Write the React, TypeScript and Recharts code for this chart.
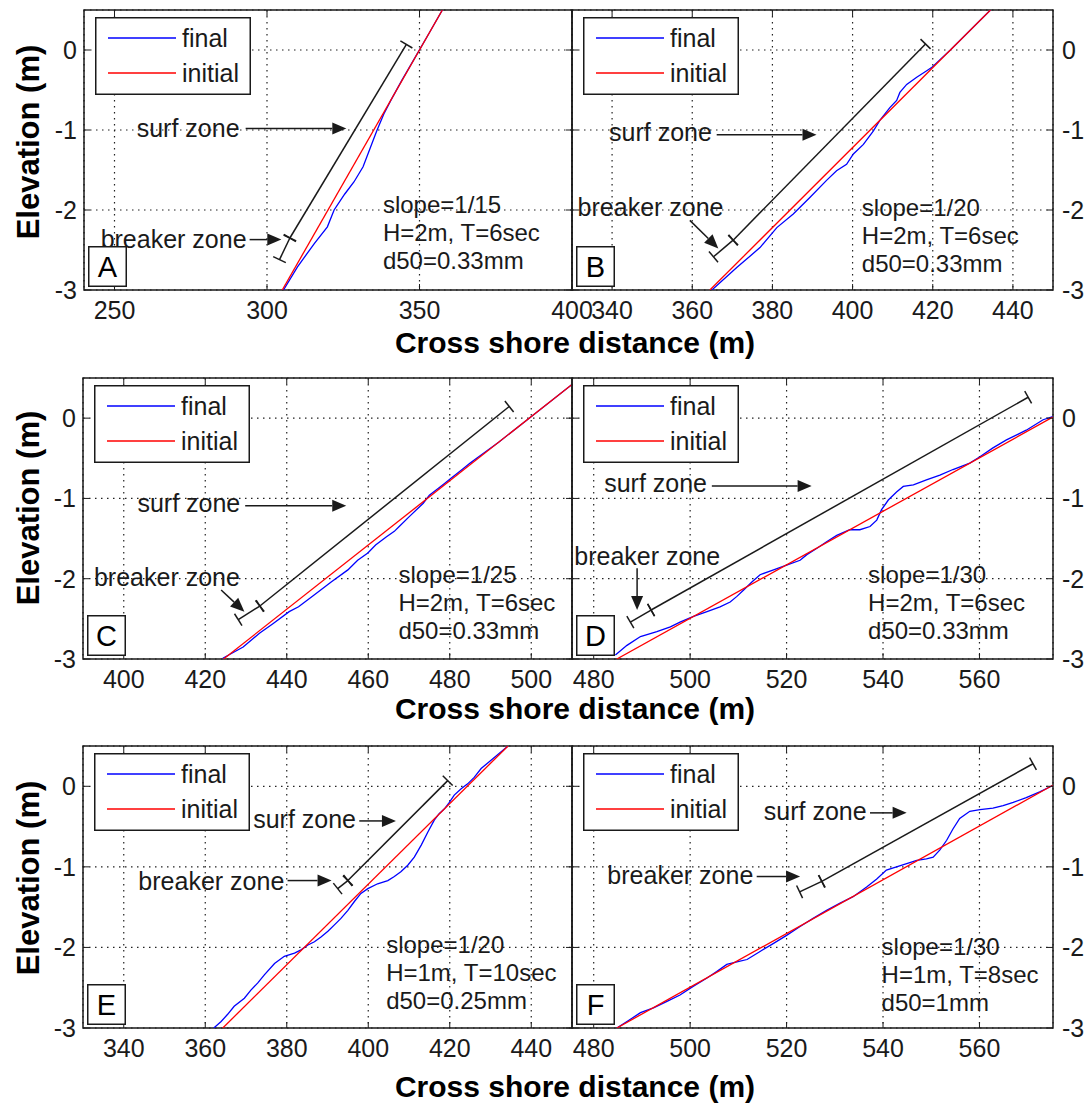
import React from "react";
import {
  CartesianGrid,
  Line,
  LineChart,
  ReferenceArea,
  ReferenceDot,
  ReferenceLine,
  XAxis,
  YAxis,
} from "recharts";

type Pt = { x: number; y: number };
const pts = (a: number[][]): Pt[] => a.map(([x, y]) => ({ x, y }));

// ---- shared axis values ----
const ELEV_DOMAIN = [-3, 0.5];
const ELEV_TICKS = [-3, -2, -1, 0];

// ---- panel A: slope 1/15 ----
const xTicksA = [250, 300, 350, 400];
const initialA = pts([[305, -3], [357.5, 0.5]]);
const finalA = pts([
  [305.4, -3.0], [310.0, -2.71], [315.5, -2.42], [319.8, -2.21], [322.0, -2.0],
  [325.5, -1.8], [328.5, -1.65], [331.5, -1.46], [334.0, -1.21], [336.0, -1.01],
  [338.3, -0.8], [340.6, -0.63], [344.2, -0.38], [348.0, -0.13], [353.0, 0.2],
  [357.5, 0.5],
]);
const barA = pts([[304.1, -2.62], [307.5, -2.35], [345.7, 0.07]]);
const arrowsA = [pts([[293, -0.98], [326, -0.98]]), pts([[294.3, -2.37], [304.7, -2.37]])];
const labelsA = [
  { text: "surf zone", x: 291, y: -0.97, anchor: "end" },
  { text: "breaker zone", x: 293.3, y: -2.36, anchor: "end" },
];
const infoA = ["slope=1/15", "H=2m, T=6sec", "d50=0.33mm"];
const infoAtA = { x: 338, y: -1.93 };

// ---- panel B: slope 1/20 ----
const xTicksB = [340, 360, 380, 400, 420, 440];
const initialB = pts([[364.4, -3], [434.4, 0.5]]);
const finalB = pts([
  [364.9, -3.0], [371.1, -2.72], [376.9, -2.47], [381.1, -2.22], [385.2, -2.05],
  [389.4, -1.84], [393.5, -1.63], [396.0, -1.51], [398.5, -1.43], [400.2, -1.3],
  [402.7, -1.18], [405.2, -1.01], [406.8, -0.88], [409.3, -0.72], [411.0, -0.63],
  [411.8, -0.53], [413.5, -0.43], [416.0, -0.34], [418.5, -0.26], [419.7, -0.22],
  [424.4, 0], [434.4, 0.5],
]);
const barB = pts([[365.3, -2.585], [370.2, -2.377], [418.2, 0.075]]);
const arrowsB = [pts([[366.1, -1.06], [391.0, -1.06]]), pts([[359.4, -2.13], [366.5, -2.48]])];
const labelsB = [
  { text: "surf zone", x: 364.9, y: -1.03, anchor: "end" },
  { text: "breaker zone", x: 349.6, y: -1.96, anchor: "middle" },
];
const infoB = ["slope=1/20", "H=2m, T=6sec", "d50=0.33mm"];
const infoAtB = { x: 402.3, y: -1.97 };

// ---- panel C: slope 1/25 ----
const xTicksC = [400, 420, 440, 460, 480, 500];
const initialC = pts([[424.5, -3], [510, 0.42]]);
const finalC = pts([
  [424.3, -2.99], [429.3, -2.85], [433.3, -2.68], [436.6, -2.56], [440.6, -2.41],
  [442.9, -2.35], [446.8, -2.2], [450.9, -2.04], [455.0, -1.89], [457.4, -1.77],
  [459.9, -1.68], [461.8, -1.58], [464.4, -1.48], [466.4, -1.41], [467.6, -1.35],
  [470.0, -1.23], [473.5, -1.06], [475.0, -0.96], [477.3, -0.87], [478.8, -0.81],
  [480.3, -0.75], [481.8, -0.69], [483.5, -0.62], [485.0, -0.56], [486.6, -0.5],
  [492.0, -0.3], [499.5, 0], [510, 0.42],
]);
const barC = pts([[428.1, -2.51], [433.4, -2.34], [494.6, 0.145]]);
const arrowsC = [pts([[429.8, -1.09], [454.6, -1.09]]), pts([[423.9, -2.14], [429.6, -2.41]])];
const labelsC = [
  { text: "surf zone", x: 428.6, y: -1.06, anchor: "end" },
  { text: "breaker zone", x: 410.6, y: -1.975, anchor: "middle" },
];
const infoC = ["slope=1/25", "H=2m, T=6sec", "d50=0.33mm"];
const infoAtC = { x: 467.4, y: -1.95 };

// ---- panel D: slope 1/30 ----
const xTicksD = [480, 500, 520, 540, 560];
const initialD = pts([[484.8, -3], [575.2, 0.013]]);
const finalD = pts([
  [484.5, -2.95], [486.9, -2.83], [489.7, -2.72], [493.1, -2.66], [495.9, -2.6],
  [497.9, -2.54], [500.7, -2.47], [503.5, -2.41], [506.2, -2.35], [508.3, -2.29],
  [509.7, -2.22], [511.1, -2.14], [512.8, -2.04], [514.5, -1.95], [517.3, -1.89],
  [520.0, -1.83], [522.8, -1.77], [524.2, -1.7], [526.3, -1.62], [528.3, -1.54],
  [530.4, -1.46], [533.1, -1.39], [535.2, -1.39], [537.3, -1.35], [538.7, -1.27],
  [539.7, -1.14], [541.1, -1.02], [542.8, -0.92], [544.2, -0.85], [546.3, -0.83],
  [549.0, -0.77], [551.8, -0.71], [554.5, -0.64], [558.0, -0.56], [560.1, -0.48],
  [562.8, -0.37], [565.6, -0.27], [569.7, -0.15], [573.2, -0.02], [575.2, 0.02],
]);
const barD = pts([[487.6, -2.54], [491.9, -2.39], [570.1, 0.26]]);
const arrowsD = [pts([[504.5, -0.845], [525.2, -0.845]]), pts([[489.0, -1.87], [489.0, -2.39]])];
const labelsD = [
  { text: "surf zone", x: 503.5, y: -0.81, anchor: "end" },
  { text: "breaker zone", x: 491.1, y: -1.72, anchor: "middle" },
];
const infoD = ["slope=1/30", "H=2m, T=6sec", "d50=0.33mm"];
const infoAtD = { x: 536.9, y: -1.95 };

// ---- panel E: slope 1/20, long period ----
const xTicksE = [340, 360, 380, 400, 420, 440];
const initialE = pts([[364.3, -3], [434.3, 0.5]]);
const finalE = pts([
  [362.1, -3.0], [363.9, -2.92], [365.5, -2.83], [367.1, -2.73], [369.6, -2.63],
  [371.2, -2.53], [372.9, -2.44], [374.5, -2.34], [377.0, -2.2], [379.4, -2.11],
  [381.9, -2.07], [383.5, -2.03], [385.2, -1.97], [386.8, -1.93], [388.4, -1.87],
  [390.1, -1.8], [391.7, -1.72], [393.3, -1.64], [395.0, -1.54], [396.6, -1.43],
  [398.2, -1.33], [399.9, -1.27], [402.3, -1.21], [404.8, -1.17], [406.4, -1.12],
  [408.0, -1.06], [409.7, -0.98], [411.3, -0.88], [413.0, -0.73], [414.6, -0.57],
  [416.2, -0.42], [417.4, -0.34], [418.7, -0.28], [419.9, -0.2], [421.1, -0.11],
  [422.8, -0.03], [424.4, 0.03], [426.0, 0.11], [427.7, 0.22], [434.3, 0.5],
]);
const barE = pts([[392.5, -1.27], [395.0, -1.17], [419.5, 0.07]]);
const arrowsE = [pts([[397.8, -0.43], [406.8, -0.43]]), pts([[380.2, -1.17], [391.0, -1.17]])];
const labelsE = [
  { text: "surf zone", x: 397.0, y: -0.41, anchor: "end" },
  { text: "breaker zone", x: 379.4, y: -1.17, anchor: "end" },
];
const infoE = ["slope=1/20", "H=1m, T=10sec", "d50=0.25mm"];
const infoAtE = { x: 404.4, y: -1.96 };

// ---- panel F: slope 1/30, coarse sand ----
const xTicksF = [480, 500, 520, 540, 560];
const initialF = pts([[484.8, -3], [575.2, 0.013]]);
const finalF = pts([
  [484.8, -3.0], [486.9, -2.92], [489.7, -2.81], [492.4, -2.75], [495.2, -2.67],
  [497.9, -2.59], [500.7, -2.48], [503.5, -2.38], [505.5, -2.3], [507.6, -2.21],
  [509.7, -2.18], [511.8, -2.15], [514.5, -2.05], [517.3, -1.95], [520.0, -1.85],
  [522.8, -1.74], [525.5, -1.64], [528.3, -1.54], [531.1, -1.45], [533.8, -1.37],
  [536.6, -1.25], [538.7, -1.15], [540.7, -1.04], [542.8, -1.0], [544.9, -0.96],
  [547.0, -0.92], [549.0, -0.9], [550.4, -0.88], [551.8, -0.79], [553.2, -0.67],
  [554.5, -0.53], [555.9, -0.4], [558.0, -0.31], [560.1, -0.29], [562.8, -0.27],
  [564.9, -0.24], [567.0, -0.2], [569.7, -0.14], [572.5, -0.07], [575.2, 0.01],
]);
const barF = pts([[522.7, -1.31], [527.3, -1.18], [571.1, 0.28]]);
const arrowsF = [pts([[537.3, -0.33], [544.9, -0.33]]), pts([[513.8, -1.12], [522.8, -1.12]])];
const labelsF = [
  { text: "surf zone", x: 536.6, y: -0.31, anchor: "end" },
  { text: "breaker zone", x: 513.1, y: -1.1, anchor: "end" },
];
const infoF = ["slope=1/30", "H=1m, T=8sec", "d50=1mm"];
const infoAtF = { x: 539.7, y: -1.99 };

// ---- look ----
const FONT = "'Liberation Sans', Arial, Helvetica, sans-serif";
const INK = "#1a1a1a";
const BLUE = "#0000ff";
const RED = "#ff0000";
const TOP_PAD = 5;
const TICK_LEN = 6;
const X_TS = 6;
const X_TM = 5;
const CAP = 7;
const HEAD_LEN = 14;
const HEAD_W = 6;
const INFO_STEP = 28;

type Side = "left" | "right";
interface PanelCfg {
  letter: string;
  box: { L: number; T: number; W: number; H: number };
  side: Side;
  xDomain: number[];
  xTicks: number[];
  initial: Pt[];
  final: Pt[];
  bar: Pt[];
  arrows: Pt[][];
  labels: { text: string; x: number; y: number; anchor: string }[];
  info: string[];
  infoAt: Pt;
}

const PANELS: PanelCfg[] = [
  { letter: "A", box: { L: 84, T: 10, W: 488, H: 280 }, side: "left", xDomain: [240, 400], xTicks: xTicksA,
    initial: initialA, final: finalA, bar: barA, arrows: arrowsA, labels: labelsA, info: infoA, infoAt: infoAtA },
  { letter: "B", box: { L: 572, T: 10, W: 481, H: 280 }, side: "right", xDomain: [330, 450], xTicks: xTicksB,
    initial: initialB, final: finalB, bar: barB, arrows: arrowsB, labels: labelsB, info: infoB, infoAt: infoAtB },
  { letter: "C", box: { L: 83, T: 378, W: 489, H: 281 }, side: "left", xDomain: [390, 510], xTicks: xTicksC,
    initial: initialC, final: finalC, bar: barC, arrows: arrowsC, labels: labelsC, info: infoC, infoAt: infoAtC },
  { letter: "D", box: { L: 572, T: 378, W: 481, H: 281 }, side: "right", xDomain: [475.5, 575.25], xTicks: xTicksD,
    initial: initialD, final: finalD, bar: barD, arrows: arrowsD, labels: labelsD, info: infoD, infoAt: infoAtD },
  { letter: "E", box: { L: 83, T: 746, W: 489, H: 282 }, side: "left", xDomain: [330, 450], xTicks: xTicksE,
    initial: initialE, final: finalE, bar: barE, arrows: arrowsE, labels: labelsE, info: infoE, infoAt: infoAtE },
  { letter: "F", box: { L: 572, T: 746, W: 481, H: 282 }, side: "right", xDomain: [475.5, 575.25], xTicks: xTicksF,
    initial: initialF, final: finalF, bar: barF, arrows: arrowsF, labels: labelsF, info: infoF, infoAt: infoAtF },
];

const Y_TITLE_CENTERS = [142, 508, 878];
const X_TITLE_CENTERS = [342, 708, 1086];

// bottom tick label plus inward tick marks on bottom and top edges
function XTick(props: any) {
  const { x, y, payload, plotH } = props;
  const base = y - X_TS - X_TM;
  return (
    <g>
      <line x1={x} x2={x} y1={base} y2={base - TICK_LEN} stroke={INK} />
      <line x1={x} x2={x} y1={base - plotH} y2={base - plotH + TICK_LEN} stroke={INK} />
      <text x={x} y={y} dy="0.71em" textAnchor="middle" fontSize={25} fill={INK} fontFamily={FONT}>
        {payload.value}
      </text>
    </g>
  );
}

// elevation tick label plus inward tick marks on both vertical edges
function YTick(props: any) {
  const { x, y, payload, side, plotW, gap } = props;
  const left = side === "left";
  const edge = left ? x + gap : x - gap;
  const far = left ? edge + plotW : edge - plotW;
  const dir = left ? 1 : -1;
  return (
    <g>
      <line x1={edge} x2={edge + dir * TICK_LEN} y1={y} y2={y} stroke={INK} />
      <line x1={far} x2={far - dir * TICK_LEN} y1={y} y2={y} stroke={INK} />
      <text x={x} y={y} textAnchor={left ? "end" : "start"} dominantBaseline="central"
        fontSize={25} fill={INK} fontFamily={FONT}>
        {payload.value}
      </text>
    </g>
  );
}

// surf-zone bar piece: straight line with perpendicular end caps
function CappedSegment(props: any) {
  const { x1, y1, x2, y2 } = props;
  const len = Math.hypot(x2 - x1, y2 - y1) || 1;
  const nx = (-(y2 - y1) / len) * CAP;
  const ny = ((x2 - x1) / len) * CAP;
  return (
    <g stroke={INK} strokeWidth={1.5}>
      <line x1={x1} y1={y1} x2={x2} y2={y2} />
      <line x1={x1 - nx} y1={y1 - ny} x2={x1 + nx} y2={y1 + ny} />
      <line x1={x2 - nx} y1={y2 - ny} x2={x2 + nx} y2={y2 + ny} />
    </g>
  );
}

function ArrowShape(props: any) {
  const { x1, y1, x2, y2 } = props;
  const len = Math.hypot(x2 - x1, y2 - y1) || 1;
  const ux = (x2 - x1) / len;
  const uy = (y2 - y1) / len;
  const bx = x2 - ux * HEAD_LEN;
  const by = y2 - uy * HEAD_LEN;
  return (
    <g>
      <line x1={x1} y1={y1} x2={bx} y2={by} stroke={INK} strokeWidth={1.5} />
      <polygon
        points={`${x2},${y2} ${bx - uy * HEAD_W},${by + ux * HEAD_W} ${bx + uy * HEAD_W},${by - ux * HEAD_W}`}
        fill={INK}
      />
    </g>
  );
}

function LegendBox() {
  return (
    <svg width={156} height={78} style={{ display: "block" }}>
      <rect x={0.75} y={0.75} width={154.5} height={76.5} fill="#fff" stroke={INK} strokeWidth={1.5} />
      <line x1={13} x2={81} y1={21} y2={21} stroke={BLUE} strokeWidth={1.3} />
      <line x1={13} x2={81} y1={56} y2={56} stroke={RED} strokeWidth={1.3} />
      <text x={87} y={21} dominantBaseline="central" fontSize={25} fill={INK} fontFamily={FONT}>final</text>
      <text x={87} y={56} dominantBaseline="central" fontSize={25} fill={INK} fontFamily={FONT}>initial</text>
    </svg>
  );
}

function LetterBox({ letter }: { letter: string }) {
  return (
    <svg width={39} height={41} style={{ display: "block" }}>
      <rect x={0.75} y={0.75} width={37.5} height={39.5} fill="#fff" stroke={INK} strokeWidth={1.5} />
      <text x={19.5} y={21} textAnchor="middle" dominantBaseline="central" fontSize={29} fill="#000" fontFamily={FONT}>
        {letter}
      </text>
    </svg>
  );
}

function Panel({ p }: { p: PanelCfg }) {
  const leftCol = p.side === "left";
  const yw = leftCol ? 60 : 40;
  const padL = leftCol ? yw : 5;
  const padR = leftCol ? 30 : yw;
  const cw = padL + p.box.W + padR;
  const ch = TOP_PAD + p.box.H + 40;
  const [x0, x1] = p.xDomain;
  const yGap = leftCol ? 7 : 9;

  return (
    <div style={{ position: "absolute", left: p.box.L - padL, top: p.box.T - TOP_PAD }}>
      <LineChart
        width={cw}
        height={ch}
        margin={{ top: TOP_PAD, right: leftCol ? padR : 0, bottom: 0, left: leftCol ? 0 : padL }}
      >
        <CartesianGrid stroke="#222" strokeDasharray="1.5 4.5" strokeWidth={1.2} />
        <XAxis
          type="number"
          dataKey="x"
          domain={p.xDomain}
          ticks={p.xTicks}
          interval={0}
          allowDataOverflow
          height={40}
          tickLine={false}
          axisLine={false}
          tickSize={X_TS}
          tickMargin={X_TM}
          tick={(t: any) => <XTick {...t} plotH={p.box.H} />}
        />
        <YAxis
          type="number"
          orientation={p.side}
          domain={ELEV_DOMAIN}
          ticks={ELEV_TICKS}
          interval={0}
          allowDataOverflow
          width={yw}
          tickLine={false}
          axisLine={false}
          tickSize={4}
          tickMargin={yGap - 4}
          tick={(t: any) => <YTick {...t} side={p.side} plotW={p.box.W} gap={yGap} />}
        />
        <ReferenceArea
          x1={x0}
          x2={x1}
          y1={ELEV_DOMAIN[0]}
          y2={ELEV_DOMAIN[1]}
          fill="none"
          fillOpacity={0}
          stroke={INK}
          strokeWidth={1.5}
          ifOverflow="visible"
        />
        <Line data={p.final} dataKey="y" type="linear" stroke={BLUE} strokeWidth={1.3}
          dot={false} isAnimationActive={false} />
        <Line data={p.initial} dataKey="y" type="linear" stroke={RED} strokeWidth={1.3}
          dot={false} isAnimationActive={false} />

        {[0, 1].map((i) => (
          <ReferenceLine
            key={`bar-${i}`}
            segment={[p.bar[i], p.bar[i + 1]]}
            ifOverflow="visible"
            shape={CappedSegment}
          />
        ))}
        {p.arrows.map((a, i) => (
          <ReferenceLine key={`arr-${i}`} segment={[a[0], a[1]]} ifOverflow="visible" shape={ArrowShape} />
        ))}
        {p.labels.map((l, i) => (
          <ReferenceDot
            key={`lab-${i}`}
            x={l.x}
            y={l.y}
            r={0}
            ifOverflow="visible"
            shape={(d: any) => (
              <text x={d.cx} y={d.cy} textAnchor={l.anchor} dominantBaseline="central"
                fontSize={25} fill={INK} fontFamily={FONT}>
                {l.text}
              </text>
            )}
          />
        ))}
        <ReferenceDot
          x={p.infoAt.x}
          y={p.infoAt.y}
          r={0}
          ifOverflow="visible"
          shape={(d: any) => (
            <g>
              {p.info.map((line, i) => (
                <text key={line} x={d.cx} y={d.cy + i * INFO_STEP} dominantBaseline="central"
                  fontSize={24} fill={INK} fontFamily={FONT}>
                  {line}
                </text>
              ))}
            </g>
          )}
        />
      </LineChart>
      <div style={{ position: "absolute", left: padL + 11, top: TOP_PAD + 7 }}>
        <LegendBox />
      </div>
      <div style={{ position: "absolute", left: padL + 4, top: TOP_PAD + p.box.H - 44 }}>
        <LetterBox letter={p.letter} />
      </div>
    </div>
  );
}

export default function App() {
  return (
    <div style={{ position: "absolute", left: 0, top: 0, width: 1091, height: 1104, background: "#fff" }}>
      {PANELS.map((p) => (
        <Panel key={p.letter} p={p} />
      ))}
      <svg width={1091} height={1104} style={{ position: "absolute", left: 0, top: 0, pointerEvents: "none" }}>
        {Y_TITLE_CENTERS.map((cy) => (
          <text key={`yt-${cy}`} transform={`translate(28, ${cy}) rotate(-90)`} textAnchor="middle"
            dominantBaseline="central" fontSize={31} fontWeight="bold" fill="#000" fontFamily={FONT}>
            Elevation (m)
          </text>
        ))}
        {X_TITLE_CENTERS.map((cy) => (
          <text key={`xt-${cy}`} x={575} y={cy} textAnchor="middle" dominantBaseline="central"
            fontSize={30} fontWeight="bold" fill="#000" fontFamily={FONT}>
            Cross shore distance (m)
          </text>
        ))}
      </svg>
    </div>
  );
}
